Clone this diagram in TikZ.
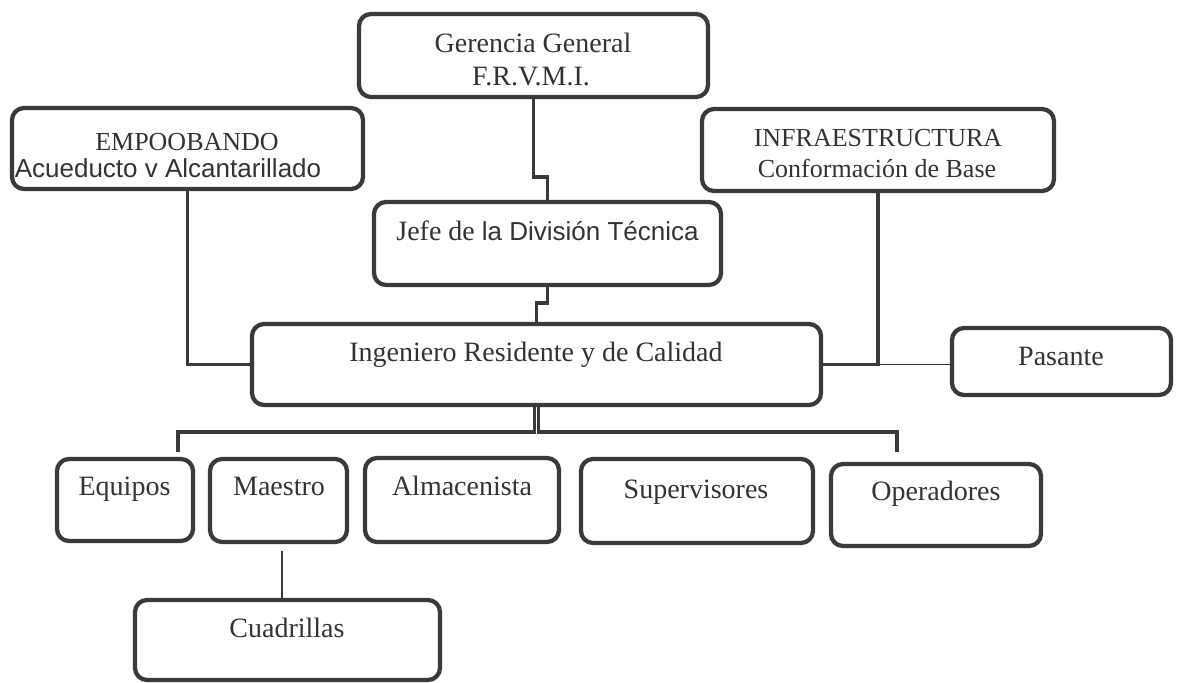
\documentclass[tikz,border=0pt]{standalone}
\usepackage{fontspec}
\setmainfont{Liberation Serif}
\newfontfamily\arialf{Liberation Sans}
\usetikzlibrary{fit}
\definecolor{strokec}{HTML}{3A3A3E}
\definecolor{textc}{HTML}{333333}
\tikzset{
  box/.style={draw=strokec, line width=3.2pt, rounded corners=9pt, inner sep=0pt, fill=white},
  conn/.style={draw=strokec, line width=2.5pt},
  thinconn/.style={draw=strokec, line width=1.2pt},
  busdrop/.style={draw=strokec, line width=2pt},
  tbig/.style={text=textc, font=\fontsize{21}{25}\selectfont, anchor=base, inner sep=0pt},
  tmid/.style={text=textc, font=\fontsize{19.5}{23}\selectfont, anchor=base, inner sep=0pt},
  tsans/.style={text=textc, font=\arialf\fontsize{19.5}{23}\selectfont, anchor=base, inner sep=0pt}
}
\begin{document}
\begin{tikzpicture}[x=0.75pt,y=-0.75pt]
\useasboundingbox (0,0) rectangle (1177,682);

% boxes
\node[box, fit={(359,14) (708,97)}] (ger) {};
\node[box, fit={(12,108) (363,189)}] (emp) {};
\node[box, fit={(702,109) (1054,191)}] (inf) {};
\node[box, fit={(374,202) (721,285)}] (jefe) {};
\node[box, fit={(252,324) (821,405)}] (ing) {};
\node[box, fit={(952,328) (1171,395)}] (pas) {};
\node[box, fit={(57,459) (193,541)}] (equ) {};
\node[box, fit={(210,459) (347,542)}] (mae) {};
\node[box, fit={(365,458) (559,542)}] (alm) {};
\node[box, fit={(581,459) (813,543)}] (sup) {};
\node[box, fit={(831,464) (1041,546)}] (ope) {};
\node[box, fit={(135,600) (440,680)}] (cua) {};

% texts
\node[tbig] (ger-t1) at (533,52) {Gerencia General};
\node[tbig] (ger-t2) at (531,85) {F.R.V.M.I.};
\node[tmid] (emp-t1) at (187,150) {EMPOOBANDO};
\node[tsans] (emp-t2) at (168,177) {Acueducto v Alcantarillado};
\node[tmid] (inf-t1) at (878,146) {INFRAESTRUCTURA};
\node[tmid] (inf-t2) at (877,177) {Conformación de Base};
\node[text=textc, anchor=base, inner sep=0pt] (jefe-t) at (547.5,240)
  {\fontsize{21}{25}\selectfont Jefe de \arialf\fontsize{19.5}{23}\selectfont la División Técnica};
\node[tbig] (ing-t) at (536,361) {Ingeniero Residente y de Calidad};
\node[tbig] (pas-t) at (1061,365) {Pasante};
\node[tbig] (equ-t) at (124.5,495) {Equipos};
\node[tbig] (mae-t) at (279,495) {Maestro};
\node[tbig] (alm-t) at (462,495) {Almacenista};
\node[tbig] (sup-t) at (696,498) {Supervisores};
\node[tbig] (ope-t) at (936,500) {Operadores};
\node[tbig] (cua-t) at (287,637) {Cuadrillas};

% connectors
\coordinate (busL) at (178,432);
\coordinate (busR) at (897,432);
\draw[conn] (ger.south) -- (ger.south |- 0,177) -| (jefe.north);
\draw[conn] (jefe.south) -- (jefe.south |- 0,303) -| (ing.north);
\draw[conn] (emp.south) |- (ing.west);
\draw[conn] (inf.south) |- (ing.east);
\draw[thinconn] (inf.south |- ing.east) -- (pas.west |- ing.east);
\draw[busdrop] ([xshift=-1.6pt]ing.south) -- ([xshift=-1.6pt]ing.south |- busL);
\draw[busdrop] ([xshift=1.6pt]ing.south) -- ([xshift=1.6pt]ing.south |- busR);
\draw[conn] ([xshift=-0.6pt]ing.south |- busL) -- (busL) -- ([yshift=3.5pt]busL |- equ.north);
\draw[conn] ([xshift=0.6pt]ing.south |- busR) -- (busR) -- ([yshift=7.5pt]busR |- ope.north);
\draw[thinconn, shorten <=5pt] (282,0 |- mae.south) -- (282,0 |- cua.north);
\end{tikzpicture}
\end{document}
